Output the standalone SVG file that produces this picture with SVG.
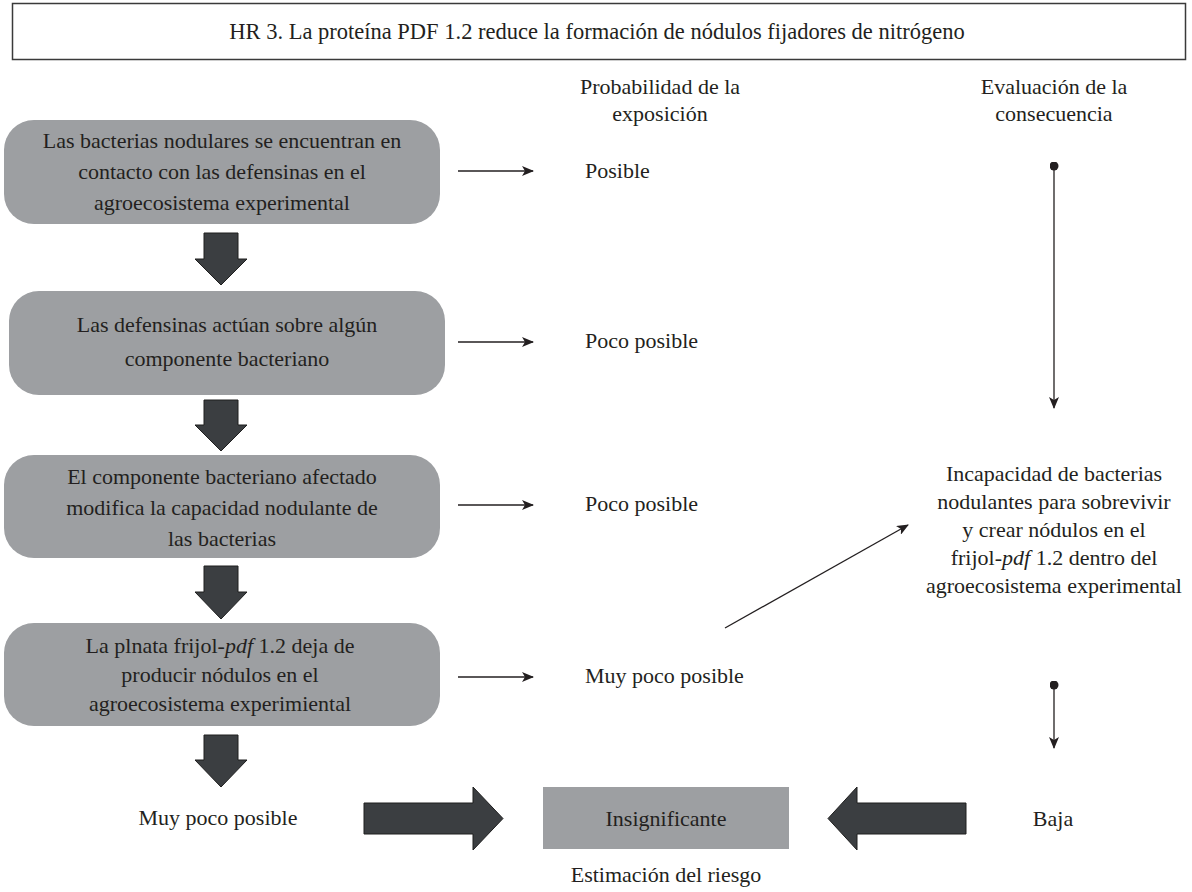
<svg xmlns="http://www.w3.org/2000/svg" width="1192" height="892" viewBox="0 0 1192 892">
  <style>
    text { font-family: "Liberation Serif", "DejaVu Serif", serif; font-size: 22px; fill: #231f20; }
    .c { text-anchor: middle; }
    .box { fill: #9d9fa2; }
    .fat { fill: #3b3e41; stroke: #1f1f1f; stroke-width: 1; }
    .thin { fill: none; stroke: #231f20; stroke-width: 1.3; }
    .frame { fill: #ffffff; stroke: #3a3a3a; stroke-width: 1.5; }
  </style>
  <defs>
    <marker id="head" viewBox="0 0 12 10" refX="11" refY="5" markerWidth="12" markerHeight="10" markerUnits="userSpaceOnUse" orient="auto">
      <path d="M0,0 L12,5 L0,10 L3,5 Z" fill="#231f20"/>
    </marker>
    <marker id="dot" viewBox="0 0 10 10" refX="5" refY="5" markerWidth="9" markerHeight="9" markerUnits="userSpaceOnUse">
      <circle cx="5" cy="5" r="5" fill="#231f20"/>
    </marker>
  </defs>

  <!-- title banner -->
  <g id="title">
    <rect class="frame" x="12.5" y="3.5" width="1173" height="56"/>
    <text class="c" x="597" y="39" style="font-size:22.5px">HR 3. La proteína PDF 1.2 reduce la formación de nódulos fijadores de nitrógeno</text>
  </g>

  <!-- column headings -->
  <g id="head-prob">
    <text class="c" x="660" y="94">Probabilidad de la</text>
    <text class="c" x="660" y="121">exposición</text>
  </g>
  <g id="head-cons">
    <text class="c" x="1054" y="94">Evaluación de la</text>
    <text class="c" x="1054" y="121">consecuencia</text>
  </g>

  <!-- pathway steps -->
  <g id="step1">
    <rect class="box" x="4" y="120" width="436" height="104" rx="30"/>
    <text class="c" x="222" y="148">Las bacterias nodulares se encuentran en</text>
    <text class="c" x="222" y="179">contacto con las defensinas en el</text>
    <text class="c" x="222" y="210">agroecosistema experimental</text>
  </g>
  <g id="step2">
    <rect class="box" x="9" y="291" width="436" height="104" rx="30"/>
    <text class="c" x="227" y="332">Las defensinas actúan sobre algún</text>
    <text class="c" x="227" y="366">componente bacteriano</text>
  </g>
  <g id="step3">
    <rect class="box" x="4" y="455" width="436" height="103" rx="30"/>
    <text class="c" x="222" y="484">El componente bacteriano afectado</text>
    <text class="c" x="222" y="515">modifica la capacidad nodulante de</text>
    <text class="c" x="222" y="546">las bacterias</text>
  </g>
  <g id="step4">
    <rect class="box" x="4" y="623" width="436" height="103" rx="30"/>
    <text class="c" x="220" y="653">La plnata frijol-<tspan font-style="italic">pdf</tspan> 1.2 deja de</text>
    <text class="c" x="220" y="682">producir nódulos en el</text>
    <text class="c" x="220" y="711">agroecosistema experimiental</text>
  </g>

  <!-- likelihood ratings -->
  <g id="prob1"><text x="585" y="178">Posible</text></g>
  <g id="prob2"><text x="585" y="348">Poco posible</text></g>
  <g id="prob3"><text x="585" y="511">Poco posible</text></g>
  <g id="prob4"><text x="585" y="683">Muy poco posible</text></g>
  <g id="prob-total"><text class="c" x="218" y="825">Muy poco posible</text></g>

  <!-- consequence -->
  <g id="consequence">
    <text class="c" x="1054" y="481">Incapacidad de bacterias</text>
    <text class="c" x="1054" y="509">nodulantes para sobrevivir</text>
    <text class="c" x="1054" y="537">y crear nódulos en el</text>
    <text class="c" x="1054" y="565">frijol-<tspan font-style="italic">pdf</tspan> 1.2 dentro del</text>
    <text class="c" x="1054" y="593">agroecosistema experimental</text>
  </g>
  <g id="severity"><text class="c" x="1053" y="826">Baja</text></g>

  <!-- risk estimate -->
  <g id="risk">
    <rect class="box" x="543" y="787" width="246" height="62"/>
    <text class="c" x="666" y="826">Insignificante</text>
    <text class="c" x="666" y="882">Estimación del riesgo</text>
  </g>

  <!-- connectors -->
  <g id="connectors">
    <path class="fat" d="M204,233 H238 V259 H247 L221,285 L195,259 H204 Z"/>
    <path class="fat" d="M204,400 H238 V425 H247 L221,451 L195,425 H204 Z"/>
    <path class="fat" d="M204,566 H238 V592 H247 L221,619 L195,592 H204 Z"/>
    <path class="fat" d="M204,735 H238 V760 H247 L221,787 L195,760 H204 Z"/>
    <path class="fat" d="M364,803 H473 V787 L503,818.5 L473,850 V834 H364 Z"/>
    <path class="fat" d="M966,803 H857 V787 L828,818.5 L857,850 V834 H966 Z"/>

    <line class="thin" x1="458" y1="171" x2="533" y2="171" marker-end="url(#head)"/>
    <line class="thin" x1="458" y1="342" x2="533" y2="342" marker-end="url(#head)"/>
    <line class="thin" x1="458" y1="505" x2="533" y2="505" marker-end="url(#head)"/>
    <line class="thin" x1="458" y1="677" x2="533" y2="677" marker-end="url(#head)"/>

    <line class="thin" x1="1054" y1="166" x2="1054" y2="408" marker-start="url(#dot)" marker-end="url(#head)"/>
    <line class="thin" x1="1054" y1="685" x2="1054" y2="748" marker-start="url(#dot)" marker-end="url(#head)"/>
    <line class="thin" x1="725" y1="628" x2="908" y2="525" marker-end="url(#head)"/>
  </g>
</svg>
